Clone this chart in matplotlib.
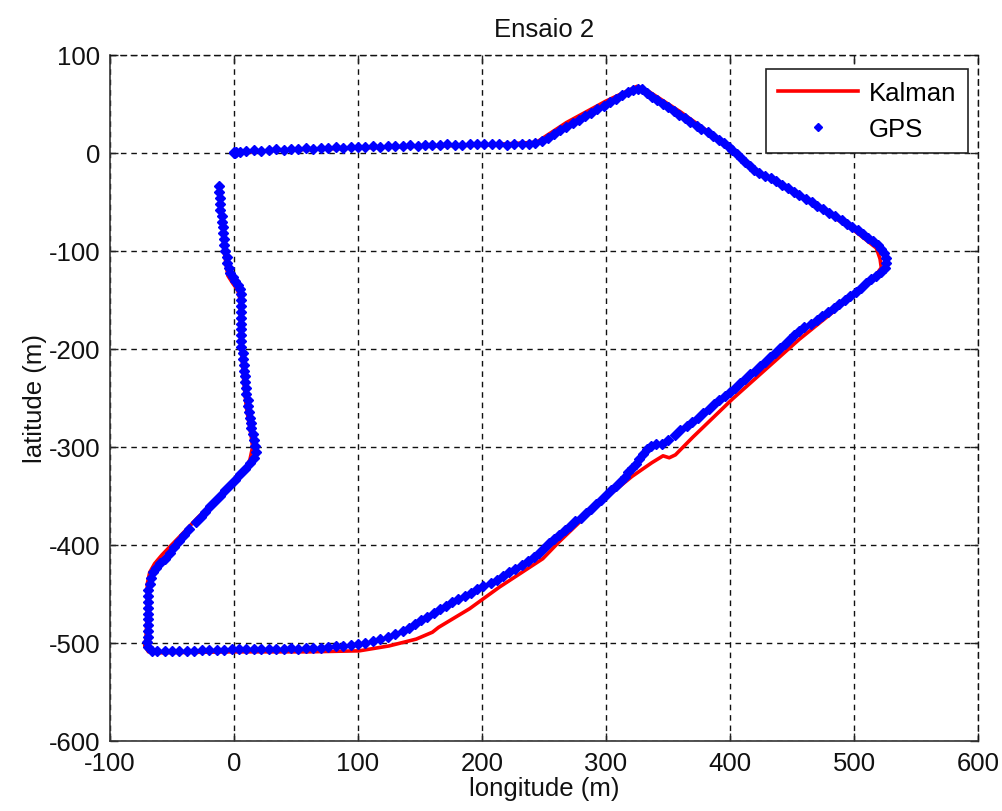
import matplotlib
matplotlib.use("Agg")
import matplotlib.pyplot as plt

# ---------------- data ----------------
title = "Ensaio 2"
xlabel = "longitude (m)"
ylabel = "latitude (m)"
xticks = [-100, 0, 100, 200, 300, 400, 500, 600]
yticks = [-600, -500, -400, -300, -200, -100, 0, 100]
series_names = ["Kalman", "GPS"]

kalman_x = [0, 10, 40, 100, 150, 200, 244, 268, 300, 325, 333, 360, 400, 420, 440, 460,
            500, 518, 521, 522, 518, 500, 456, 402, 370, 356, 351, 346, 337, 321, 294,
            262, 249, 214, 190, 165, 160, 147, 125, 101, 60, 0, -60, -69, -72, -71, -70,
            -70, -68, -64, -58, -45, -30, -15, 0, 10, 13, 15, 14, 12, 10, 8, 6, 5, 5, 3,
            -1, -5, -8, -10, -11]
kalman_y = [0, 1, 3, 5, 7, 8, 11, 31, 53, 68, 64, 42, 6, -17, -31, -46,
            -79, -97, -108, -117, -124, -145, -190, -251, -290, -308, -311, -309, -316, -330, -358,
            -397, -414, -443, -465, -484, -489, -496, -503, -508, -509, -509, -510, -509, -503, -495, -470,
            -440, -428, -419, -410, -393, -373, -354, -336, -322, -312, -300, -290, -275, -260, -235, -200, -180, -150, -140,
            -133, -125, -100, -60, -40]

gps_x = [0, 0, 1, 2, 5, 10, 16, 22, 28, 34, 40, 46, 52, 58, 64, 70, 76, 82, 88, 94, 100,
         106, 112, 118, 124, 130, 136, 142, 148, 154, 160, 166, 172, 178, 184, 190, 196,
         202, 208, 214, 220, 226, 232, 238, 243,
         248, 253, 258, 263, 268, 273, 278, 283, 288, 293, 298, 303, 308, 313, 318, 322, 326, 329,
         333, 337, 341, 346, 350, 355, 359, 364, 368, 373, 377, 382, 386, 391, 395, 399, 402,
         406, 409, 412, 416, 419, 423, 428, 433, 437, 442, 447, 452, 456, 461, 466, 470, 475,
         480, 485, 490, 494, 498, 503, 507, 511, 515, 519, 522, 524, 526, 526, 525, 522,
         518, 514, 510, 506, 502, 497, 493, 488, 484, 479, 474, 470, 465, 460, 456, 452, 448,
         444, 440, 436, 432, 428, 424, 420, 416, 412, 408, 404, 400, 396, 391, 387, 383, 378,
         374, 369, 365, 360, 356, 350, 345, 340, 336, 333, 330, 327, 324, 321, 318, 315, 312,
         308, 304, 300, 296, 292, 288, 284, 280, 275, 271, 267, 262, 258, 254, 250, 246, 242,
         237, 232, 227, 222, 217, 212, 207, 201, 196, 191, 186, 181, 176, 171, 166, 161, 156,
         151, 146, 141, 136, 130, 124, 118, 112, 106, 100, 94, 88, 82, 76, 70, 64, 58, 52, 46,
         40, 34, 28, 22, 16, 10, 4, -2, -8, -14, -20, -26, -32, -38, -44, -50, -56, -62, -66,
         -69, -70, -69, -69, -69, -69, -69, -69, -69, -69, -69, -68, -67, -65, -63, -60, -56,
         -52, -48, -44, -40, -36, -31, -27, -23, -19, -15, -11, -7, -3, 1, 5, 9, 13, 16, 18,
         17, 16, 15, 14, 14, 13, 12, 11, 11, 10, 10, 9, 9, 8, 8, 7, 7, 6, 6, 6, 6, 6, 6, 6, 6,
         6, 6, 5, 3, 1, -1, -3, -4, -6, -6, -7, -8, -8, -9, -9, -10, -10, -11, -11, -11, -12, -12]
gps_y = [0, 1, 0, 1, 1, 2, 3, 2, 3, 4, 3, 4, 4, 5, 4, 5, 5, 6, 5, 6, 6,
         6, 7, 6, 7, 7, 7, 8, 7, 8, 8, 8, 9, 8, 8, 9, 9,
         9, 9, 9, 8, 9, 9, 9, 10,
         12, 15, 19, 23, 27, 31, 34, 38, 41, 45, 48, 52, 55, 59, 62, 64, 65, 65,
         61, 57, 54, 50, 47, 43, 39, 36, 32, 28, 24, 21, 17, 13, 10, 6, 3,
         -1, -5, -9, -13, -17, -20, -23, -26, -29, -33, -36, -40, -43, -47, -50, -54, -57,
         -61, -64, -68, -72, -76, -79, -83, -87, -90, -94, -98, -102, -107, -112, -117, -121,
         -125, -129, -133, -138, -142, -146, -150, -154, -158, -162, -166, -170, -174, -178, -182, -186, -190,
         -195, -199, -204, -208, -213, -217, -222, -226, -231, -235, -240, -244, -248, -252, -256, -261, -265,
         -270, -274, -279, -283, -288, -293, -297, -297, -299, -302, -307, -312, -317, -321, -326, -331, -335,
         -340, -344, -349, -354, -358, -363, -367, -372, -376, -381, -385, -390, -394, -398, -403, -408, -412,
         -416, -420, -424, -428, -432, -436, -439, -442, -445, -449, -452, -455, -458, -462, -465, -469, -473,
         -477, -481, -485, -488, -491, -494, -496, -498, -500, -501, -502, -503, -503, -504, -505, -505, -505, -506, -505,
         -506, -506, -506, -506, -506, -506, -506, -506, -507, -507, -507, -507, -508, -508, -508, -508, -508, -508, -508,
         -504, -499, -494, -488, -482, -476, -470, -464, -458, -452, -446, -440, -434, -428, -423, -418, -414,
         -408, -402, -396, -390, -384, -377, -371, -366, -360, -355, -350, -344, -339, -334, -328, -322, -316, -311, -305,
         -299, -293, -287, -281, -276, -270, -264, -258, -252, -246, -240, -234, -228, -222, -216, -210, -204, -198, -192, -186, -180, -174, -168, -162, -156,
         -150, -144, -139, -135, -131, -127, -122, -117, -112, -106, -100, -94, -88, -82, -76, -70, -64, -58, -52, -46, -40, -34]

# ---------------- figure ----------------
plt.rcParams['font.family'] = ['Liberation Sans', 'DejaVu Sans']
plt.rcParams['axes.unicode_minus'] = False
FS = 18.5
DASH = (0, (4, 3.5))

fig = plt.figure(figsize=(10.03, 8.12), dpi=100)
ax = fig.add_axes([110 / 1003, 1 - 742 / 812, 868 / 1003, 686 / 812])

ax.plot(kalman_x, kalman_y, color='#ff0000', lw=2.6, label=series_names[0], zorder=3)
ax.plot(gps_x, gps_y, ls='none', marker='D', ms=5.4, mfc='#0000ff', mec='#0000ff',
        mew=1.0, label=series_names[1], zorder=4)

ax.set_xlim(-100, 600)
ax.set_ylim(-600, 100)
ax.set_xticks(xticks)
ax.set_yticks(yticks)
ax.tick_params(direction='in', length=6, width=1, top=True, right=True,
               labelsize=FS, colors='#222222', pad=7)
for lbl in ax.get_xticklabels() + ax.get_yticklabels():
    lbl.set_color('#111111')
ax.grid(True, color='#111111', ls=DASH, lw=1.0)
for name, s in ax.spines.items():
    s.set_color('#333333')
    s.set_linewidth(1.2)
for name in ('top', 'right'):
    ax.spines[name].set_linestyle(DASH)
    ax.spines[name].set_linewidth(1.0)
    ax.spines[name].set_color('#111111')

ax.set_title(title, fontsize=FS, pad=14, color='#111111')
ax.set_xlabel(xlabel, fontsize=FS, labelpad=1, color='#111111')
ax.set_ylabel(ylabel, fontsize=FS, labelpad=1, color='#111111')

leg = ax.legend(loc='upper right', bbox_to_anchor=(968 / 1003, 1 - 70 / 812),
                bbox_transform=fig.transFigure, borderaxespad=0, fancybox=False,
                framealpha=1, edgecolor='#222222', fontsize=FS, handlelength=3.1,
                handletextpad=0.45, borderpad=0.45, labelspacing=0.5, markerscale=0.7)
leg.get_frame().set_linewidth(1.2)

fig.savefig("out.png", dpi=100)
